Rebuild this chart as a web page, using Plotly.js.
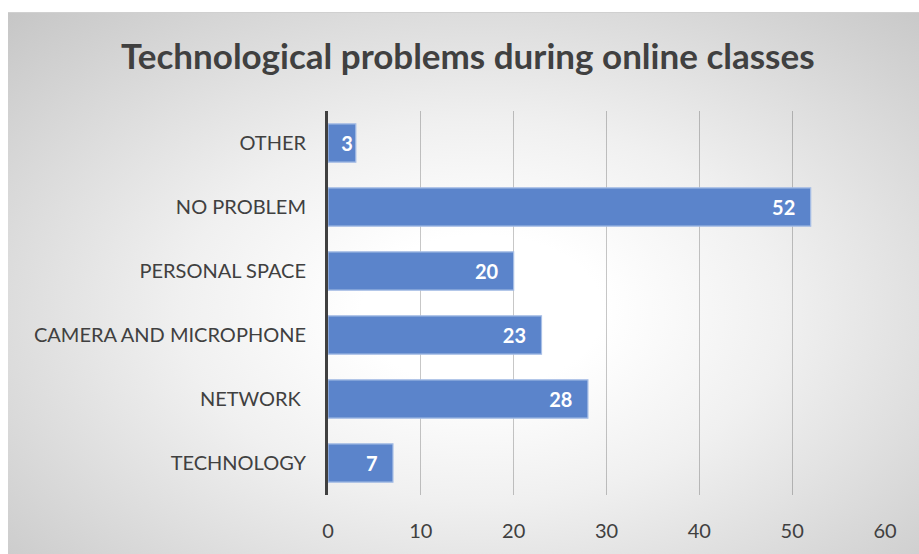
<!DOCTYPE html>
<html>
<head>
<meta charset="utf-8">
<script src="https://cdn.plot.ly/plotly-3.0.1.min.js"></script>
<style>
  html, body { margin: 0; padding: 0; background: #ffffff; }
  #bg {
    position: absolute; left: 8px; top: 12px; width: 911px; height: 542px;
    background: radial-gradient(ellipse farthest-corner at 52% 55%, #ffffff 18%, #f0f0f0 45%, #c6c6c6 100%);
    border-top: 1px solid #d0d0d0;
  }
  #chart { position: absolute; left: 0; top: 0; width: 919px; height: 554px; }
</style>
</head>
<body>
<div id="bg"></div>
<div id="chart"></div>
<script>
const categories = ["TECHNOLOGY", "NETWORK ", "CAMERA AND MICROPHONE", "PERSONAL SPACE", "NO PROBLEM", "OTHER"];
const values = [7, 28, 23, 20, 52, 3];
const xTicks = [0, 10, 20, 30, 40, 50, 60];
const chartTitle = "Technological problems during online classes";

const FONT = "Lato, Calibri, 'Open Sans', sans-serif";

const trace = {
  type: "bar",
  orientation: "h",
  x: values,
  y: categories,
  // short bars get no end padding so the label stays inside the bar
  text: values.map(v => v >= 5 ? String(v) + "\u2002\u2009" : String(v)),
  textposition: "inside",
  insidetextanchor: "end",
  textangle: 0,
  constraintext: "none",
  textfont: { family: FONT, size: 20, color: "#ffffff", weight: "bold" },
  marker: { color: "#5b84cb", line: { color: "#a8bfe6", width: 1.2 } },
  hoverinfo: "skip"
};

const layout = {
  width: 919, height: 554,
  paper_bgcolor: "rgba(0,0,0,0)",
  plot_bgcolor: "rgba(0,0,0,0)",
  margin: { l: 328, r: 34, t: 111, b: 59, pad: 0 },
  bargap: 0.4,
  showlegend: false,
  title: {
    text: "<b>" + chartTitle + "</b>",
    font: { family: FONT, size: 35, color: "#404040" },
    x: 0.509, xref: "container", xanchor: "center",
    y: 0.897, yref: "container", yanchor: "middle"
  },
  xaxis: {
    range: [0, 60],
    tickvals: xTicks,
    ticktext: xTicks.map(String),
    showgrid: true,
    gridcolor: "rgba(0,0,0,0.22)",
    gridwidth: 1,
    zeroline: false,
    showline: false,
    ticks: "outside", ticklen: 18, tickcolor: "rgba(0,0,0,0)",
    tickfont: { family: FONT, size: 20, color: "#404040" },
    fixedrange: true
  },
  yaxis: {
    type: "category",
    categoryorder: "array",
    categoryarray: categories,
    showgrid: false,
    zeroline: false,
    showline: true, linecolor: "#404040", linewidth: 3,
    ticks: "outside", ticklen: 15, tickcolor: "rgba(0,0,0,0)",
    tickfont: { family: FONT, size: 20, color: "#404040" },
    fixedrange: true
  }
};

Plotly.newPlot("chart", [trace], layout, { displayModeBar: false, staticPlot: true });
</script>
</body>
</html>
